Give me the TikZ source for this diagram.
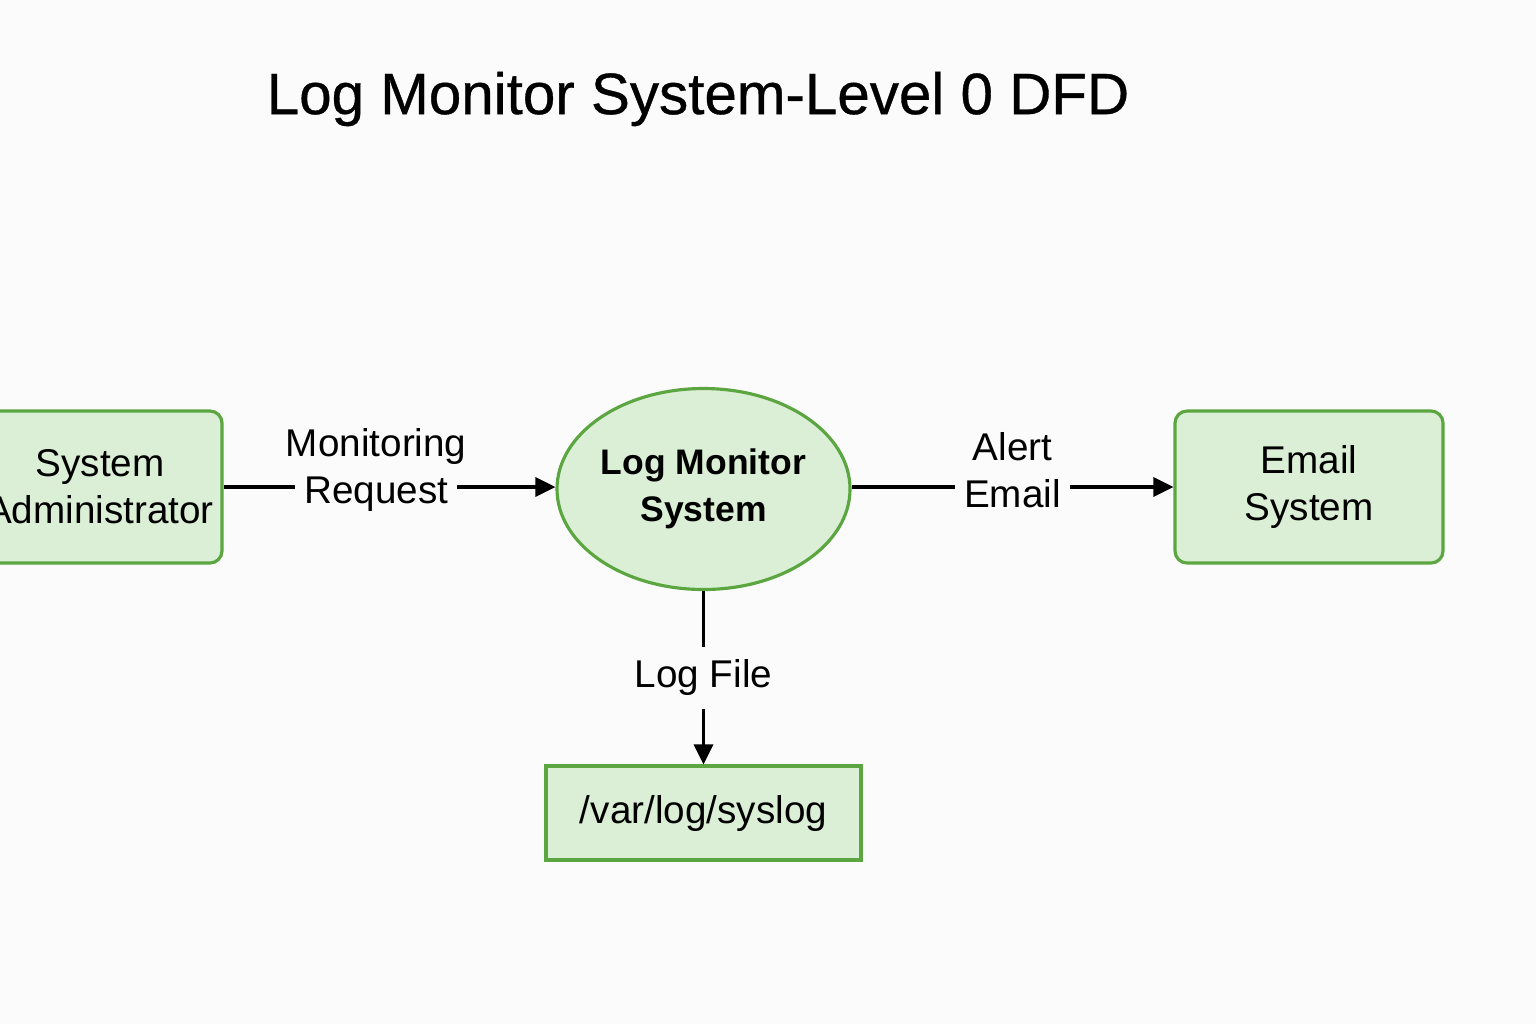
\documentclass[tikz,border=0pt]{standalone}
\usepackage{fontspec}
\setmainfont{Liberation Sans}
\newfontfamily\titlefont[FakeBold=0.6]{Liberation Sans}
\usetikzlibrary{shapes.geometric,arrows.meta}
\definecolor{boxfill}{HTML}{DAEFD5}
\definecolor{boxline}{HTML}{5BA641}
\definecolor{paper}{HTML}{FBFBFB}

\begin{document}
\begin{tikzpicture}
\tikzstyle{every node}+=[inner sep=0pt, align=center, font=\fontsize{11}{13.3}\selectfont]
\tikzstyle{entity}=[draw=boxline, fill=boxfill, line width=0.9pt, rounded corners=0.12cm, minimum width=2.68cm, minimum height=1.52cm]
\tikzstyle{process}=[ellipse, draw=boxline, fill=boxfill, line width=0.9pt, minimum width=2.93cm, minimum height=2.01cm, font=\fontsize{10.1}{13.3}\selectfont\bfseries]
\tikzstyle{datastore}=[draw=boxline, fill=boxfill, line width=0.9pt, minimum width=3.15cm, minimum height=0.94cm]
\tikzstyle{flow}=[black, line width=0.9pt, -{Triangle[length=0.2cm,width=0.19cm]}]
\tikzstyle{flowlabel}=[fill=paper, inner xsep=0.09cm, inner ysep=0.13cm]
\fill [paper] (0,0) rectangle (15.36,-10.24);
\useasboundingbox (0,0) rectangle (15.36,-10.24);
% title
\node (title) at (6.98,-0.99) [font=\fontsize{16.6}{20}\titlefont] {Log Monitor System-Level 0 DFD};
% external entities, process and store
\node (admin) [entity, minimum width=2.44cm] at (1.00,-4.87) {System\\Administrator};
\node (proc) [process] at (7.035,-4.89) {Log Monitor\\System};
\node (email) [entity] at (13.09,-4.87) {Email\\System};
\node (store) [datastore] at (7.035,-8.13) {/var/log/syslog};
% data flows
\draw [flow] (admin) -- node [flowlabel, pos=0.46, yshift=0.17cm] {\makebox[0pt]{Monitoring}\\Request} (proc.west |- admin);
\draw [flow] (proc.east |- email) -- node [flowlabel, yshift=0.17cm] {Alert\\Email} (email);
\draw [flow] (proc) -- node [flowlabel] {Log File} (store);
\end{tikzpicture}
\end{document}
